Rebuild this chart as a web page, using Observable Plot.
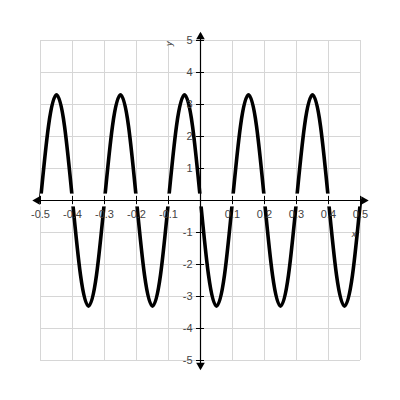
<!DOCTYPE html>
<html><head><meta charset="utf-8">
<script src="https://cdn.jsdelivr.net/npm/d3@7"></script>
<script src="https://cdn.jsdelivr.net/npm/@observablehq/plot@0.6"></script>
<style>body{margin:0;background:#fff}</style>
</head><body><div id="chart"></div>
<script>
// Curve points (x, y)
const xValues = [-0.5,-0.475,-0.45,-0.425,-0.4,-0.375,-0.35,-0.325,-0.3,-0.275,-0.25,-0.225,-0.2,-0.175,-0.15,-0.125,-0.1,-0.075,-0.05,-0.025,0,
  0.025,0.05,0.075,0.1,0.125,0.15,0.175,0.2,0.225,0.25,0.275,0.3,0.325,0.35,0.375,0.4,0.425,0.45,0.475,0.5];
const yValues = [0,2.33,3.3,2.33,0,-2.33,-3.3,-2.33,0,2.33,3.3,2.33,0,-2.33,-3.3,-2.33,0,2.33,3.3,2.33,0,
  -2.33,-3.3,-2.33,0,2.33,3.3,2.33,0,-2.33,-3.3,-2.33,0,2.33,3.3,2.33,0,-2.33,-3.3,-2.33,0];
const xGrid = [-0.5,-0.4,-0.3,-0.2,-0.1,0,0.1,0.2,0.3,0.4,0.5];
const yGrid = [-5,-4,-3,-2,-1,0,1,2,3,4,5];
const xLabelValues = [-0.5,-0.4,-0.3,-0.2,-0.1,0.1,0.2,0.3,0.4,0.5];
const xLabelTexts = ["-0.5","-0.4","-0.3","-0.2","-0.1","0.1","0.2","0.3","0.4","0.5"];
const yLabelValues = [5,4,3,2,1,-1,-2,-3,-4,-5];
const yLabelTexts = ["5","4","3","2","1","-1","-2","-3","-4","-5"];

const curve = xValues.map((x, i) => ({x, y: yValues[i]}));
const xLabels = xLabelValues.map((v, i) => ({v, t: xLabelTexts[i]}));
const yLabels = yLabelValues.map((v, i) => ({v, t: yLabelTexts[i]}));

const chart = Plot.plot({
  width: 400, height: 400,
  marginLeft: 40, marginRight: 40, marginTop: 40, marginBottom: 40,
  x: {domain: [-0.5, 0.5], axis: null},
  y: {domain: [-5, 5], axis: null},
  style: {fontFamily: "Liberation Sans, Arial, sans-serif", fontSize: "11px", background: "#fff", overflow: "visible"},
  marks: [
    Plot.ruleX(xGrid, {y1: -5, y2: 5, stroke: "#d6d6d6", strokeWidth: 1}),
    Plot.ruleY(yGrid, {x1: -0.5, x2: 0.5, stroke: "#d6d6d6", strokeWidth: 1}),
    Plot.line(curve, {x: "x", y: "y", stroke: "#000", strokeWidth: 3.6, curve: "natural"}),
    Plot.rect([0], {x1: -0.5, x2: 0.5, y1: -0.2, y2: 0.2, fill: "#fff"}),
    Plot.ruleY([0], {x1: -0.52, x2: 0.52, stroke: "#000", strokeWidth: 1.2}),
    Plot.ruleX([0], {y1: -5.2, y2: 5.22, stroke: "#000", strokeWidth: 1.2}),
    Plot.ruleX(xGrid.filter(d => d !== 0), {y1: -0.13, y2: 0.13, stroke: "#000", strokeWidth: 1}),
    Plot.ruleY(yGrid.filter(d => d !== 0), {x1: -0.0125, x2: 0.0125, stroke: "#000", strokeWidth: 1}),
    Plot.dot([{x: 0.51, y: 0, r: 90}, {x: -0.51, y: 0, r: -90}, {x: 0, y: 5.12, r: 0}, {x: 0, y: -5.15, r: 180}],
      {x: "x", y: "y", rotate: "r", symbol: "triangle", r: 3.2, fill: "#000", stroke: "none"}),
    Plot.text(xLabels, {x: "v", y: 0, text: "t", dy: 14, fill: "#444", textAnchor: "middle"}),
    Plot.text(yLabels, {x: 0, y: "v", text: "t", dx: -8, fill: "#444", textAnchor: "end"}),
    Plot.text(["y"], {x: -0.097, y: 4.9, text: d => d, rotate: -90, fontStyle: "italic", fontSize: 9, fill: "#333"}),
    Plot.text(["x"], {x: 0.48, y: -1.06, text: d => d, fontStyle: "italic", fontSize: 9, fill: "#333"})
  ]
});
document.getElementById("chart").append(chart);
</script>
</body></html>
